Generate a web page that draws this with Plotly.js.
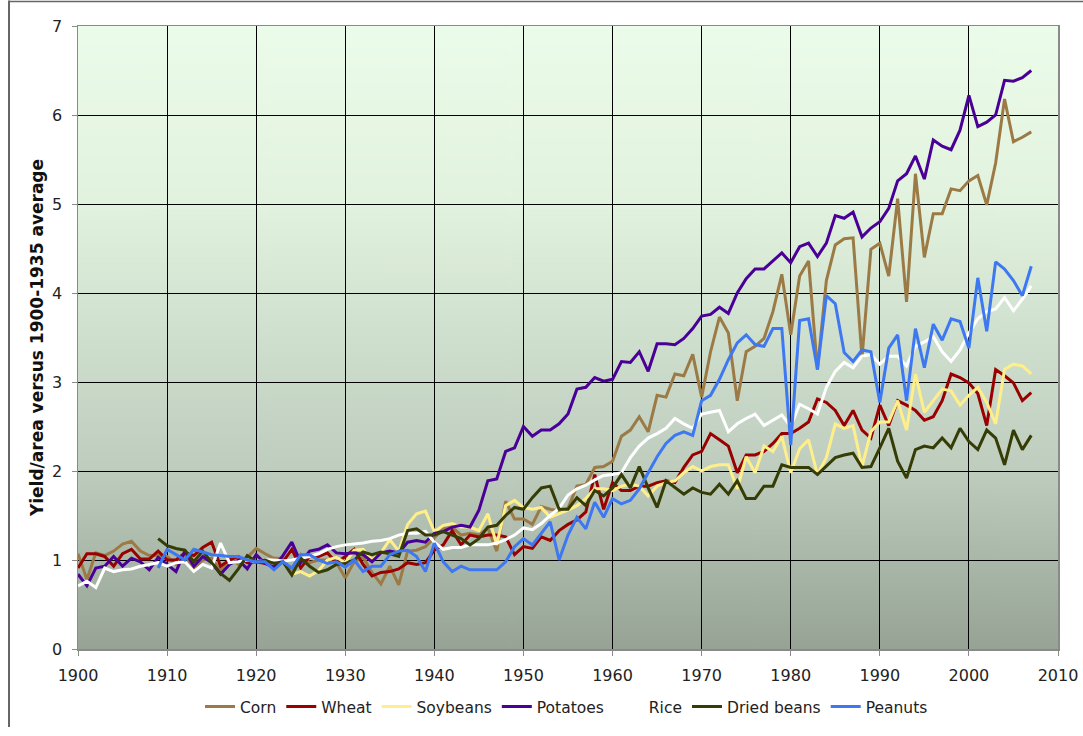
<!DOCTYPE html>
<html>
<head>
<meta charset="utf-8">
<script src="https://cdn.plot.ly/plotly-3.0.1.min.js"></script>
<style>
  html, body { margin: 0; padding: 0; background: #ffffff; }
  #chart { width: 1083px; height: 736px; }
</style>
</head>
<body>
<div id="chart"></div>
<script>
// Years 1900-2007
const years = [
  1900,1901,1902,1903,1904,1905,1906,1907,1908,1909,
  1910,1911,1912,1913,1914,1915,1916,1917,1918,1919,
  1920,1921,1922,1923,1924,1925,1926,1927,1928,1929,
  1930,1931,1932,1933,1934,1935,1936,1937,1938,1939,
  1940,1941,1942,1943,1944,1945,1946,1947,1948,1949,
  1950,1951,1952,1953,1954,1955,1956,1957,1958,1959,
  1960,1961,1962,1963,1964,1965,1966,1967,1968,1969,
  1970,1971,1972,1973,1974,1975,1976,1977,1978,1979,
  1980,1981,1982,1983,1984,1985,1986,1987,1988,1989,
  1990,1991,1992,1993,1994,1995,1996,1997,1998,1999,
  2000,2001,2002,2003,2004,2005,2006,2007
];

const corn = [
  1.07,0.78,1.08,1.05,1.10,1.18,1.21,1.10,1.05,1.05,
  1.04,0.95,1.06,0.90,1.00,1.02,0.88,1.02,0.95,1.03,
  1.13,1.07,1.02,1.02,0.85,1.06,0.97,1.00,1.00,0.97,
  0.80,0.98,1.03,0.86,0.73,0.93,0.72,1.10,1.11,1.15,
  1.25,1.35,1.37,1.28,1.30,1.28,1.36,1.10,1.66,1.46,
  1.46,1.40,1.60,1.57,1.55,1.58,1.83,1.85,2.04,2.05,
  2.11,2.39,2.46,2.61,2.44,2.85,2.83,3.09,3.07,3.31,
  2.83,3.34,3.73,3.55,2.79,3.34,3.40,3.49,3.79,4.21,
  3.53,4.19,4.36,3.14,4.14,4.54,4.61,4.62,3.27,4.49,
  4.56,4.19,5.06,3.90,5.34,4.40,4.89,4.89,5.17,5.15,
  5.26,5.32,4.99,5.46,6.18,5.70,5.75,5.81
];

const wheat = [
  0.91,1.07,1.07,1.04,0.93,1.07,1.12,1.01,1.01,1.10,
  1.00,1.00,1.08,1.05,1.14,1.20,0.93,1.00,1.04,0.97,
  0.98,0.96,1.00,0.98,1.12,0.91,1.04,1.04,1.08,0.97,
  1.04,1.12,0.95,0.82,0.86,0.87,0.90,0.97,0.95,0.97,
  1.11,1.17,1.33,1.17,1.28,1.26,1.28,1.28,1.26,1.06,
  1.15,1.13,1.26,1.22,1.33,1.40,1.45,1.54,1.96,1.57,
  1.87,1.78,1.78,1.83,1.83,1.87,1.89,1.87,2.04,2.18,
  2.22,2.42,2.35,2.28,1.98,2.18,2.18,2.22,2.31,2.42,
  2.42,2.48,2.55,2.81,2.77,2.68,2.51,2.68,2.46,2.37,
  2.74,2.51,2.79,2.74,2.68,2.57,2.61,2.79,3.09,3.05,
  2.99,2.87,2.51,3.14,3.07,2.99,2.79,2.88
];

const soybeans = [
  null,null,null,null,null,null,null,null,null,null,
  null,null,null,null,null,null,null,null,null,null,
  null,null,null,null,0.84,0.87,0.82,0.88,1.00,1.03,
  0.97,1.11,1.12,1.00,1.08,1.23,1.10,1.40,1.52,1.55,
  1.32,1.39,1.41,1.37,1.37,1.33,1.52,1.17,1.61,1.67,
  1.59,1.57,1.59,1.48,1.52,1.56,1.61,1.69,1.80,1.80,
  1.78,1.83,1.85,1.83,1.72,1.83,1.87,1.89,1.98,2.05,
  2.00,2.05,2.07,2.07,1.80,2.16,1.98,2.28,2.22,2.39,
  1.98,2.25,2.35,1.96,2.15,2.53,2.48,2.51,2.05,2.44,
  2.55,2.55,2.79,2.46,3.09,2.66,2.79,2.92,2.90,2.74,
  2.85,2.94,2.77,2.53,3.14,3.20,3.18,3.09
];

const potatoes = [
  0.84,0.71,0.91,0.93,1.04,0.93,1.02,0.98,0.89,1.03,
  0.95,0.87,1.10,0.93,1.04,0.97,0.84,0.95,1.00,0.90,
  1.06,0.96,0.92,1.05,1.20,0.97,1.10,1.12,1.17,1.08,
  1.07,1.08,1.06,0.98,1.08,1.10,1.08,1.20,1.22,1.20,
  1.30,1.32,1.37,1.39,1.37,1.56,1.89,1.91,2.22,2.26,
  2.50,2.39,2.46,2.46,2.53,2.64,2.92,2.94,3.05,3.01,
  3.03,3.23,3.22,3.34,3.12,3.43,3.43,3.42,3.49,3.60,
  3.74,3.76,3.84,3.77,4.00,4.16,4.27,4.27,4.36,4.45,
  4.34,4.52,4.56,4.41,4.56,4.87,4.84,4.91,4.63,4.73,
  4.80,4.95,5.26,5.34,5.54,5.28,5.72,5.65,5.61,5.83,
  6.22,5.87,5.92,6.00,6.39,6.38,6.42,6.50
];

const rice = [
  0.71,0.76,0.69,0.91,0.87,0.89,0.90,0.93,0.95,0.97,
  0.93,0.97,0.98,0.87,0.95,0.91,1.19,0.97,0.98,1.00,
  0.98,1.00,1.00,0.99,1.00,1.02,1.04,1.07,1.12,1.15,
  1.17,1.18,1.19,1.21,1.22,1.24,1.28,1.30,1.30,1.32,
  1.20,1.12,1.14,1.14,1.17,1.17,1.17,1.19,1.23,1.28,
  1.36,1.34,1.41,1.50,1.58,1.73,1.80,1.84,1.90,1.95,
  1.96,1.98,2.15,2.28,2.37,2.42,2.48,2.59,2.53,2.48,
  2.64,2.66,2.68,2.44,2.53,2.59,2.64,2.51,2.57,2.63,
  2.50,2.75,2.70,2.64,2.94,3.12,3.22,3.16,3.29,3.31,
  3.20,3.29,3.29,3.18,3.40,3.45,3.51,3.34,3.23,3.36,
  3.55,3.71,3.79,3.82,3.95,3.80,3.93,4.08
];

const driedBeans = [
  null,null,null,null,null,null,null,null,null,1.24,
  1.16,1.13,1.11,0.98,1.10,0.97,0.85,0.77,0.90,1.05,
  0.98,1.00,0.96,0.98,0.83,1.02,0.93,0.86,0.89,0.95,
  0.96,1.00,1.09,1.06,1.09,1.07,1.04,1.33,1.35,1.28,
  1.28,1.32,1.28,1.24,1.17,1.24,1.37,1.39,1.50,1.59,
  1.57,1.70,1.81,1.83,1.57,1.57,1.70,1.61,1.78,1.72,
  1.81,1.96,1.81,2.05,1.81,1.59,1.89,1.81,1.74,1.81,
  1.76,1.74,1.85,1.74,1.89,1.69,1.69,1.83,1.83,2.07,
  2.04,2.04,2.04,1.96,2.05,2.15,2.18,2.20,2.04,2.05,
  2.26,2.48,2.11,1.92,2.24,2.28,2.26,2.37,2.26,2.48,
  2.33,2.24,2.46,2.37,2.07,2.46,2.24,2.40
];

const peanuts = [
  null,null,null,null,null,null,null,null,null,0.91,
  1.12,1.06,1.00,1.12,1.09,1.06,1.05,1.04,1.04,1.00,
  0.98,0.98,0.89,0.98,0.91,1.06,1.06,1.00,0.96,0.98,
  0.92,1.00,0.87,0.93,0.93,1.06,1.10,1.11,1.04,0.87,
  1.19,0.98,0.87,0.93,0.89,0.89,0.89,0.89,0.98,1.15,
  1.24,1.17,1.30,1.43,1.00,1.28,1.48,1.35,1.65,1.48,
  1.69,1.63,1.67,1.80,1.98,2.16,2.31,2.40,2.44,2.40,
  2.79,2.85,3.03,3.25,3.44,3.53,3.42,3.40,3.60,3.60,
  2.29,3.69,3.71,3.14,3.97,3.88,3.33,3.23,3.36,3.34,
  2.77,3.38,3.53,2.79,3.60,3.16,3.65,3.47,3.71,3.68,
  3.38,4.17,3.57,4.35,4.27,4.14,3.97,4.30
];

const seriesNames = ['Corn','Wheat','Soybeans','Potatoes','Rice','Dried beans','Peanuts'];
const seriesValues = [corn, wheat, soybeans, potatoes, rice, driedBeans, peanuts];
const seriesColors = ['#9c7a45','#990000','#ffef8a','#4a0096','#ffffff','#363c05','#3d78f2'];

const xTicks = [1900,1910,1920,1930,1940,1950,1960,1970,1980,1990,2000,2010];
const yTicks = [0,1,2,3,4,5,6,7];

// gradient background image
function gradientURL() {
  const c = document.createElement('canvas');
  c.width = 8; c.height = 640;
  const g = c.getContext('2d');
  const grd = g.createLinearGradient(0, 0, 0, 640);
  grd.addColorStop(0, 'rgb(236,252,234)');
  grd.addColorStop(0.29, 'rgb(225,242,222)');
  grd.addColorStop(0.71, 'rgb(190,205,190)');
  grd.addColorStop(1, 'rgb(150,163,149)');
  g.fillStyle = grd;
  g.fillRect(0, 0, 8, 640);
  return c.toDataURL('image/png');
}

const traces = seriesNames.map((name, i) => ({
  type: 'scatter',
  mode: 'lines',
  name: name,
  x: years,
  y: seriesValues[i],
  line: { color: seriesColors[i], width: 3 },
  connectgaps: false,
  hoverinfo: 'x+y+name'
}));

const fontFam = '"DejaVu Sans", Verdana, sans-serif';

const layout = {
  width: 1083,
  height: 736,
  margin: { l: 78, r: 25, t: 26, b: 77 },
  paper_bgcolor: '#ffffff',
  plot_bgcolor: 'rgba(0,0,0,0)',
  font: { family: fontFam, size: 16, color: '#222222' },
  showlegend: true,
  legend: {
    orientation: 'h',
    x: 0.4985, xanchor: 'center',
    y: -0.093, yanchor: 'middle',
    font: { family: fontFam, size: 15.5, color: '#222222' },
    bgcolor: 'rgba(0,0,0,0)',
    itemwidth: 30,
    traceorder: 'normal'
  },
  xaxis: {
    range: [1900, 2010],
    tickvals: xTicks,
    ticktext: xTicks.map(String),
    showgrid: true,
    gridcolor: '#000000',
    gridwidth: 1,
    zeroline: false,
    showline: true,
    linecolor: '#8a8a8a',
    linewidth: 1.5,
    mirror: true,
    ticks: 'outside',
    ticklen: 5,
    tickcolor: '#8a8a8a',
    ticklabelstandoff: 6,
    tickfont: { family: fontFam, size: 16, color: '#222222' },
    fixedrange: true
  },
  yaxis: {
    range: [0, 7],
    tickvals: yTicks,
    ticktext: yTicks.map(String),
    showgrid: true,
    gridcolor: '#000000',
    gridwidth: 1,
    zeroline: false,
    showline: true,
    linecolor: '#8a8a8a',
    linewidth: 1.5,
    mirror: true,
    ticks: 'outside',
    ticklen: 5,
    tickcolor: '#8a8a8a',
    ticklabelstandoff: 6,
    tickfont: { family: fontFam, size: 16, color: '#222222' },
    title: {
      text: '<b>Yield/area versus 1900-1935 average</b>',
      font: { family: fontFam, size: 17, color: '#111111' },
      standoff: 4
    },
    fixedrange: true
  },
  images: [{
    source: gradientURL(),
    xref: 'paper', yref: 'paper',
    x: 0, y: 1, sizex: 1, sizey: 1,
    xanchor: 'left', yanchor: 'top',
    sizing: 'stretch',
    layer: 'below'
  }],
  shapes: [
    { type: 'line', xref: 'paper', yref: 'paper',
      x0: -0.0704, x1: -0.0704, y0: 1.041, y1: -0.125,
      line: { color: '#333333', width: 1.5 } },
    { type: 'line', xref: 'paper', yref: 'paper',
      x0: -0.0704, x1: 1.03, y0: 1.0395, y1: 1.0395,
      line: { color: '#666666', width: 1.5 } }
  ]
};

Plotly.newPlot('chart', traces, layout, { displayModeBar: false, staticPlot: true });
</script>
</body>
</html>
